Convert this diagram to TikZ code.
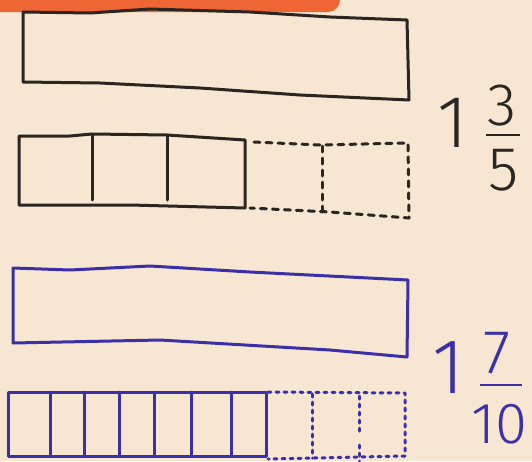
\documentclass[tikz,border=0pt]{standalone}
\usepackage{fontspec}
\newfontfamily\hand{Fira Sans Light}
\definecolor{paper}{HTML}{F7E6D2}
\definecolor{tab}{HTML}{EE6633}
\definecolor{inkk}{HTML}{2B2622}
\definecolor{inkb}{HTML}{3B30A8}
\tikzset{
  blk/.style={draw=inkk, line width=3pt, line join=round, line cap=round},
  blu/.style={draw=inkb, line width=3pt, line join=round, line cap=round},
  dsh/.style={dash pattern=on 6pt off 6pt},
  dot/.style={dash pattern=on 3pt off 5pt},
  num/.style={inner sep=0pt, anchor=base, font=\hand},
}
\begin{document}
\begin{tikzpicture}[x=1pt,y=-1pt]
\useasboundingbox (0,0) rectangle (532,461);
\fill[paper] (0,0) rectangle (532,461);
% orange tab
\begin{scope}
\clip (0,0) rectangle (532,461);
\fill[tab, rounded corners=12pt] (-30,-30) rectangle (340,12);
\end{scope}
% first black whole
\draw[blk] (23,12) -- (90,13) -- (150,9) -- (250,12) -- (330,17) -- (407,20) -- (409,100) -- (300,95) -- (200,88) -- (100,83) -- (23,82) -- cycle;
% second black: three fifths
\draw[blk] (19,136) -- (70,136) -- (92,134) -- (167,135) -- (245,140) -- (245,208) -- (130,205) -- (19,205) -- cycle;
\draw[blk] (92,134) -- (92,200);
\draw[blk] (167,135) -- (167,200);
\draw[blk,dsh] (254,142) -- (320,145) -- (408,143) -- (409,218) -- (330,212) -- (250,208);
\draw[blk,dsh] (322,146) -- (322,212);
% blue whole
\draw[blu] (13,268) -- (70,270) -- (150,266) -- (250,272) -- (408,280) -- (407,357) -- (330,350) -- (160,340) -- (13,343) -- cycle;
% blue seven tenths
\draw[blu] (8,392) -- (266,392) -- (266,456) -- (8,456) -- cycle;
\foreach \xx in {50,84,119,154,191,231} \draw[blu] (\xx,392) -- (\xx,456);
\draw[blu,dot] (268,392) -- (405,393) -- (405,456) -- (268,459);
\draw[blu,dot] (312,394) -- (312,458);
\draw[blu,dot] (359,396) -- (359,432);
\draw[blu,dot] (359,445) -- (359,461);
% numerals
\node[num, text=inkk, font=\hand\fontsize{74}{74}\selectfont] (w1) at (453,147) {1};
\node[num, text=inkk, font=\hand\fontsize{60}{60}\selectfont] (n1) at (502,125) {3};
\node[num, text=inkk, font=\hand\fontsize{62}{62}\selectfont] (d1) at (504,190) {5};
\draw[inkk, line width=2.4pt] (486,135) -- (520,135);
\node[num, text=inkb, font=\hand\fontsize{78}{78}\selectfont] (w2) at (449,393) {1};
\node[num, text=inkb, font=\hand\fontsize{62}{62}\selectfont] (n2) at (497,373) {7};
\node[num, text=inkb, font=\hand\fontsize{58}{58}\selectfont] (d2) at (499,443) {10};
\draw[inkb, line width=2.4pt] (480,385) -- (522,385);
\end{tikzpicture}
\end{document}
